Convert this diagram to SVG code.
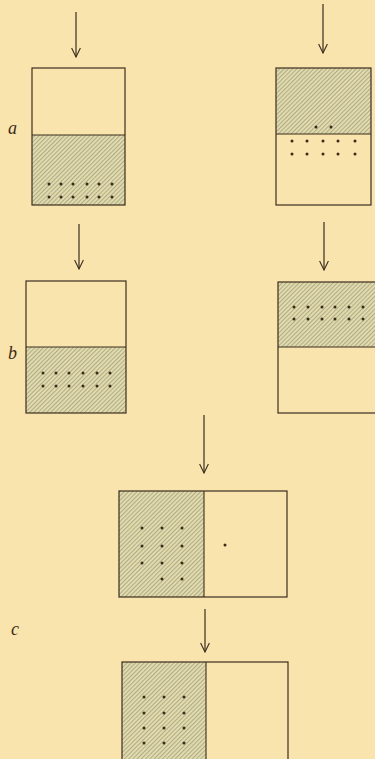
<svg xmlns="http://www.w3.org/2000/svg" width="375" height="759" viewBox="0 0 375 759">
  <defs>
    <pattern id="hatch" width="3" height="3" patternUnits="userSpaceOnUse" patternTransform="rotate(45)">
      <rect width="3" height="3" fill="#e3ddb0"/>
      <line x1="0.6" y1="0" x2="0.6" y2="3" stroke="#9e9874" stroke-width="0.8"/>
    </pattern>
    <marker id="head" viewBox="0 0 12 10" refX="11" refY="5" markerWidth="12" markerHeight="10" markerUnits="userSpaceOnUse" orient="auto">
      <path d="M2 0.6 L11 5 L2 9.4" fill="none" stroke="#3b2e1e" stroke-width="1.1"/>
    </marker>
  </defs>
  <style>
    .box { fill: none; stroke: #3b2e1e; stroke-width: 1.2; }
    .wet { fill: url(#hatch); }
    .div { stroke: #3b2e1e; stroke-width: 1.1; }
    .dot { fill: #3a2a18; }
    .arrow { stroke: #3b2e1e; stroke-width: 1.2; fill: none; marker-end: url(#head); }
    .lbl { font-family: "Liberation Serif", "DejaVu Serif", serif; font-style: italic; font-size: 18px; fill: #3a2a18; }
  </style>

  <rect width="375" height="759" fill="#fae4ad"/>

  <!-- connectors: downward arrows -->
  <g id="connectors">
    <line class="arrow" x1="76" y1="12" x2="76" y2="57"/>
    <line class="arrow" x1="323" y1="4" x2="323" y2="53"/>
    <line class="arrow" x1="79" y1="224" x2="79" y2="269"/>
    <line class="arrow" x1="324" y1="222" x2="324" y2="270"/>
    <line class="arrow" x1="204" y1="415" x2="204" y2="473"/>
    <line class="arrow" x1="205" y1="609" x2="205" y2="652"/>
  </g>

  <!-- row a, left: hatched lower half with dots near the bottom -->
  <g id="a-left">
    <rect class="wet" x="32" y="135" width="93" height="70"/>
    <rect class="box" x="32" y="68" width="93" height="137"/>
    <line class="div" x1="32" y1="135" x2="125" y2="135"/>
    <g class="dot">
      <circle cx="49" cy="184" r="1.5"/><circle cx="61" cy="184" r="1.5"/><circle cx="73" cy="184" r="1.5"/>
      <circle cx="87" cy="184" r="1.5"/><circle cx="99" cy="184" r="1.5"/><circle cx="112" cy="184" r="1.5"/>
      <circle cx="49" cy="197" r="1.5"/><circle cx="61" cy="197" r="1.5"/><circle cx="73" cy="197" r="1.5"/>
      <circle cx="87" cy="197" r="1.5"/><circle cx="99" cy="197" r="1.5"/><circle cx="112" cy="197" r="1.5"/>
    </g>
  </g>

  <!-- row a, right: hatched upper half, dots just below the boundary -->
  <g id="a-right">
    <rect class="wet" x="276" y="68" width="95" height="66"/>
    <rect class="box" x="276" y="68" width="95" height="137"/>
    <line class="div" x1="276" y1="134" x2="371" y2="134"/>
    <g class="dot">
      <circle cx="316" cy="127" r="1.5"/><circle cx="331" cy="127" r="1.5"/>
      <circle cx="292" cy="141" r="1.5"/><circle cx="307" cy="141" r="1.5"/><circle cx="323" cy="141" r="1.5"/>
      <circle cx="338" cy="141" r="1.5"/><circle cx="355" cy="141" r="1.5"/>
      <circle cx="292" cy="154" r="1.5"/><circle cx="307" cy="154" r="1.5"/><circle cx="323" cy="154" r="1.5"/>
      <circle cx="338" cy="154" r="1.5"/><circle cx="355" cy="154" r="1.5"/>
    </g>
  </g>

  <!-- row b, left -->
  <g id="b-left">
    <rect class="wet" x="26" y="347" width="100" height="66"/>
    <rect class="box" x="26" y="281" width="100" height="132"/>
    <line class="div" x1="26" y1="347" x2="126" y2="347"/>
    <g class="dot">
      <circle cx="43" cy="373" r="1.5"/><circle cx="56" cy="373" r="1.5"/><circle cx="69" cy="373" r="1.5"/>
      <circle cx="83" cy="373" r="1.5"/><circle cx="97" cy="373" r="1.5"/><circle cx="110" cy="373" r="1.5"/>
      <circle cx="43" cy="386" r="1.5"/><circle cx="56" cy="386" r="1.5"/><circle cx="69" cy="386" r="1.5"/>
      <circle cx="83" cy="386" r="1.5"/><circle cx="97" cy="386" r="1.5"/><circle cx="110" cy="386" r="1.5"/>
    </g>
  </g>

  <!-- row b, right (runs past the right edge) -->
  <g id="b-right">
    <rect class="wet" x="278" y="282" width="100" height="65"/>
    <rect class="box" x="278" y="282" width="102" height="131"/>
    <line class="div" x1="278" y1="347" x2="378" y2="347"/>
    <g class="dot">
      <circle cx="294" cy="307" r="1.5"/><circle cx="308" cy="307" r="1.5"/><circle cx="322" cy="307" r="1.5"/>
      <circle cx="335" cy="307" r="1.5"/><circle cx="349" cy="307" r="1.5"/><circle cx="363" cy="307" r="1.5"/>
      <circle cx="294" cy="319" r="1.5"/><circle cx="308" cy="319" r="1.5"/><circle cx="322" cy="319" r="1.5"/>
      <circle cx="335" cy="319" r="1.5"/><circle cx="349" cy="319" r="1.5"/><circle cx="363" cy="319" r="1.5"/>
    </g>
  </g>

  <!-- row c, upper: hatched left half, one dot crossed over -->
  <g id="c-upper">
    <rect class="wet" x="119" y="491" width="85" height="106"/>
    <rect class="box" x="119" y="491" width="168" height="106"/>
    <line class="div" x1="204" y1="491" x2="204" y2="597"/>
    <g class="dot">
      <circle cx="142" cy="528" r="1.5"/><circle cx="162" cy="528" r="1.5"/><circle cx="182" cy="528" r="1.5"/>
      <circle cx="142" cy="546" r="1.5"/><circle cx="162" cy="546" r="1.5"/><circle cx="182" cy="546" r="1.5"/>
      <circle cx="142" cy="563" r="1.5"/><circle cx="162" cy="563" r="1.5"/><circle cx="182" cy="563" r="1.5"/>
      <circle cx="162" cy="579" r="1.5"/><circle cx="182" cy="579" r="1.5"/>
      <circle cx="225" cy="545" r="1.5"/>
    </g>
  </g>

  <!-- row c, lower (runs past the bottom edge) -->
  <g id="c-lower">
    <rect class="wet" x="122" y="662" width="84" height="100"/>
    <rect class="box" x="122" y="662" width="166" height="102"/>
    <line class="div" x1="206" y1="662" x2="206" y2="764"/>
    <g class="dot">
      <circle cx="144" cy="697" r="1.5"/><circle cx="164" cy="697" r="1.5"/><circle cx="184" cy="697" r="1.5"/>
      <circle cx="144" cy="713" r="1.5"/><circle cx="164" cy="713" r="1.5"/><circle cx="184" cy="713" r="1.5"/>
      <circle cx="144" cy="728" r="1.5"/><circle cx="164" cy="728" r="1.5"/><circle cx="184" cy="728" r="1.5"/>
      <circle cx="144" cy="743" r="1.5"/><circle cx="164" cy="743" r="1.5"/><circle cx="184" cy="743" r="1.5"/>
    </g>
  </g>

  <!-- row labels -->
  <g id="labels">
    <text class="lbl" x="8" y="134">a</text>
    <text class="lbl" x="8" y="359">b</text>
    <text class="lbl" x="11" y="635">c</text>
  </g>
</svg>
